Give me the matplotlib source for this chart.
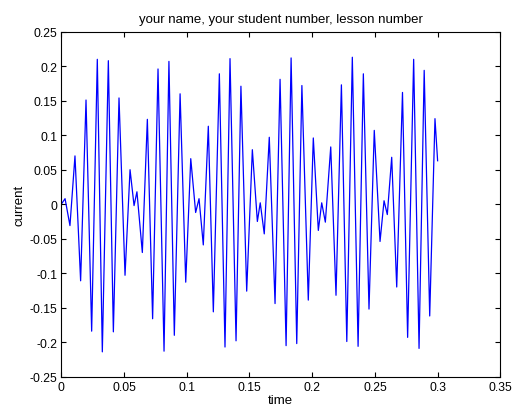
import matplotlib
matplotlib.use("Agg")
import matplotlib.pyplot as plt

# Extrema of the waveform (time, current)
time = [0.0000, 0.0030, 0.0069, 0.0109, 0.0154, 0.0197, 0.0242, 0.0287, 0.0327, 0.0375,
        0.0415, 0.0460, 0.0508, 0.0548, 0.0580, 0.0603, 0.0646, 0.0686, 0.0728, 0.0771,
        0.0819, 0.0858, 0.0901, 0.0947, 0.0992, 0.1032, 0.1071, 0.1098, 0.1132, 0.1172,
        0.1212, 0.1260, 0.1305, 0.1345, 0.1393, 0.1432, 0.1478, 0.1523, 0.1563, 0.1586,
        0.1618, 0.1658, 0.1704, 0.1744, 0.1792, 0.1832, 0.1877, 0.1918, 0.1969, 0.2009,
        0.2049, 0.2076, 0.2105, 0.2148, 0.2190, 0.2233, 0.2276, 0.2320, 0.2366, 0.2408,
        0.2453, 0.2495, 0.2541, 0.2573, 0.2599, 0.2634, 0.2674, 0.2720, 0.2761, 0.2809,
        0.2852, 0.2893, 0.2937, 0.2979, 0.3000]
current = [0.000, 0.008, -0.031, 0.070, -0.111, 0.151, -0.184, 0.210, -0.214, 0.208,
           -0.185, 0.154, -0.103, 0.050, -0.002, 0.018, -0.070, 0.123, -0.166, 0.196,
           -0.213, 0.207, -0.190, 0.160, -0.113, 0.066, -0.012, 0.008, -0.059, 0.113,
           -0.156, 0.189, -0.207, 0.211, -0.198, 0.171, -0.126, 0.079, -0.025, 0.002,
           -0.043, 0.097, -0.144, 0.181, -0.205, 0.212, -0.202, 0.172, -0.139, 0.096,
           -0.038, 0.002, -0.026, 0.083, -0.132, 0.173, -0.199, 0.213, -0.206, 0.189,
           -0.152, 0.107, -0.054, 0.005, -0.015, 0.068, -0.120, 0.162, -0.193, 0.210,
           -0.209, 0.194, -0.162, 0.124, 0.063]

xticks = [0, 0.05, 0.1, 0.15, 0.2, 0.25, 0.3, 0.35]
xticklabels = ["0", "0.05", "0.1", "0.15", "0.2", "0.25", "0.3", "0.35"]
yticks = [-0.25, -0.2, -0.15, -0.1, -0.05, 0, 0.05, 0.1, 0.15, 0.2, 0.25]
yticklabels = ["-0.25", "-0.2", "-0.15", "-0.1", "-0.05", "0", "0.05", "0.1", "0.15", "0.2", "0.25"]

plt.rcParams['font.family'] = ['Liberation Sans', 'DejaVu Sans']

fig = plt.figure(figsize=(5.13, 4.10), dpi=100)
ax = fig.add_axes([0.1195, 0.0788, 0.8558, 0.8414])
ax.plot(time, current, color=(0, 0, 1), lw=0.9)
ax.set_xlim(0, 0.35)
ax.set_ylim(-0.25, 0.25)
ax.set_xticks(xticks)
ax.set_xticklabels(xticklabels)
ax.set_yticks(yticks)
ax.set_yticklabels(yticklabels)
ax.tick_params(direction='in', length=3.5, width=0.8, top=True, right=True,
               labelsize=8.7, pad=3)
for s in ax.spines.values():
    s.set_linewidth(0.8)
ax.set_title("your name, your student number, lesson number", fontsize=9.5, pad=7)
ax.set_xlabel("time", fontsize=9.5, labelpad=1)
ax.set_ylabel("current", fontsize=9.5, labelpad=3)

fig.savefig("out.png", dpi=100)
